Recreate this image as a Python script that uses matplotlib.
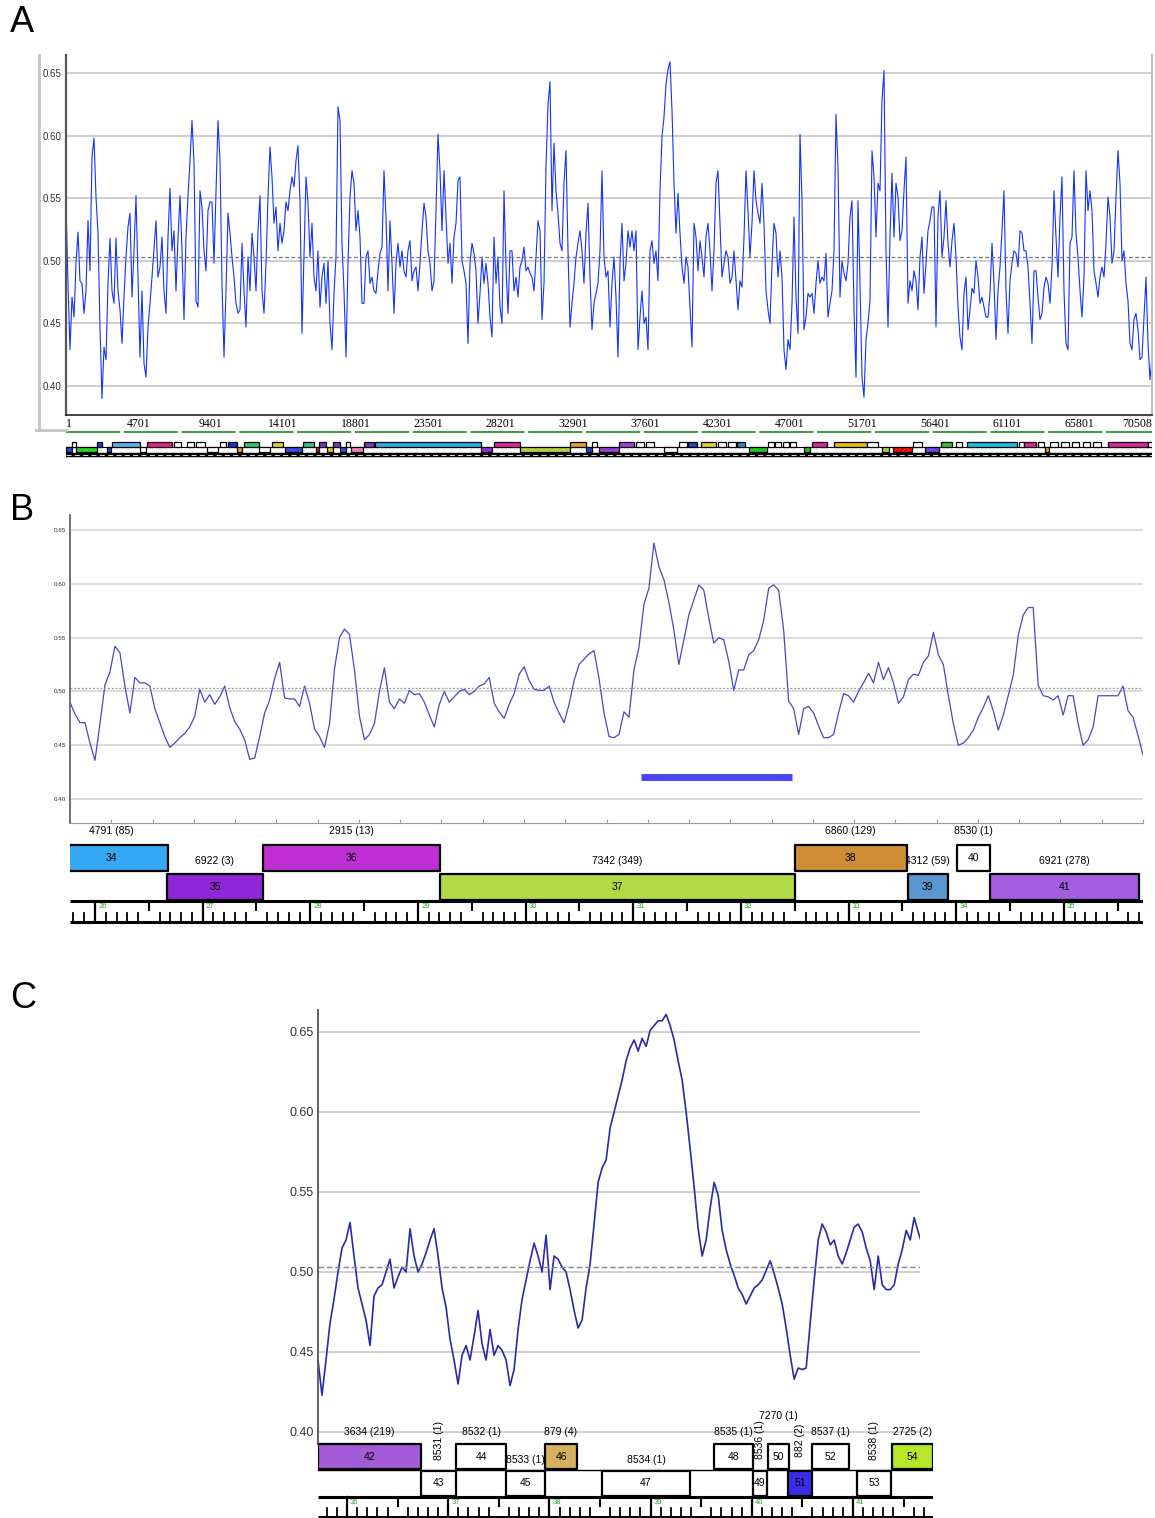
import numpy as np
import matplotlib
matplotlib.use("Agg")
import matplotlib.pyplot as plt
from matplotlib.patches import Rectangle
from matplotlib.lines import Line2D

plt.rcParams["font.family"] = ["Liberation Sans", "DejaVu Sans"]

W, H = 1155, 1518

# ---------------- data ----------------
mean_gc = 0.503
gc_ticks = [0.40, 0.45, 0.50, 0.55, 0.60, 0.65]

# Panel A: whole genome GC skew window values (read left to right)
gc_a = [
    0.543, 0.482, 0.429, 0.471, 0.455, 0.498, 0.523, 0.484, 0.482, 0.458,
    0.476, 0.532, 0.492, 0.583, 0.598, 0.551, 0.522, 0.447, 0.390, 0.431,
    0.421, 0.482, 0.518, 0.476, 0.466, 0.518, 0.476, 0.461, 0.434, 0.471,
    0.503, 0.527, 0.538, 0.471, 0.508, 0.552, 0.487, 0.423, 0.476, 0.418,
    0.407, 0.447, 0.466, 0.487, 0.510, 0.532, 0.487, 0.495, 0.519, 0.476,
    0.458, 0.519, 0.558, 0.508, 0.524, 0.476, 0.518, 0.552, 0.508, 0.453,
    0.519, 0.552, 0.580, 0.612, 0.578, 0.468, 0.463, 0.556, 0.543, 0.508,
    0.492, 0.540, 0.547, 0.547, 0.498, 0.554, 0.612, 0.580, 0.482, 0.423,
    0.476, 0.538, 0.522, 0.503, 0.487, 0.466, 0.458, 0.461, 0.514, 0.476,
    0.447, 0.503, 0.476, 0.522, 0.503, 0.476, 0.524, 0.552, 0.476, 0.458,
    0.498, 0.551, 0.591, 0.567, 0.530, 0.543, 0.508, 0.530, 0.514, 0.524,
    0.547, 0.540, 0.556, 0.567, 0.559, 0.580, 0.592, 0.548, 0.442, 0.503,
    0.567, 0.546, 0.503, 0.530, 0.487, 0.476, 0.508, 0.463, 0.487, 0.498,
    0.466, 0.500, 0.450, 0.429, 0.474, 0.503,
    0.623, 0.612, 0.514, 0.476, 0.423, 0.498, 0.551, 0.572, 0.562, 0.524,
    0.540, 0.519, 0.466, 0.466, 0.503, 0.508, 0.482, 0.487, 0.476, 0.474,
    0.492, 0.506, 0.511, 0.572, 0.535, 0.476, 0.532, 0.498, 0.458, 0.498,
    0.514, 0.495, 0.508, 0.492, 0.487, 0.508, 0.516, 0.484, 0.492, 0.495,
    0.476, 0.498, 0.524, 0.546, 0.535, 0.508, 0.498, 0.476, 0.484, 0.540,
    0.601, 0.572, 0.524, 0.572, 0.535, 0.498, 0.514, 0.482, 0.519, 0.530,
    0.564, 0.567, 0.500, 0.492, 0.482, 0.434, 0.498, 0.514, 0.506, 0.492,
    0.450, 0.474, 0.503, 0.482, 0.498, 0.482, 0.455, 0.439, 0.519, 0.482,
    0.503, 0.463, 0.450, 0.556, 0.495, 0.458, 0.508, 0.508, 0.476, 0.487,
    0.471, 0.495, 0.500, 0.511, 0.492, 0.495, 0.490, 0.487, 0.476, 0.503,
    0.532, 0.524, 0.453, 0.482, 0.575, 0.625, 0.643, 0.540, 0.594, 0.556,
    0.538, 0.514, 0.508, 0.562, 0.588, 0.508, 0.447, 0.466, 0.482, 0.503,
    0.514, 0.524, 0.508, 0.482, 0.522, 0.546, 0.487, 0.445, 0.466, 0.474,
    0.482, 0.508, 0.572, 0.503, 0.487,
    0.492, 0.447, 0.482, 0.503, 0.471, 0.423, 0.498, 0.530, 0.484, 0.498,
    0.524, 0.511, 0.524, 0.508, 0.524, 0.429, 0.455, 0.476, 0.450, 0.455,
    0.429, 0.508, 0.516, 0.498, 0.508, 0.484, 0.556, 0.599, 0.615, 0.641,
    0.653, 0.659, 0.620, 0.562, 0.522, 0.554, 0.522, 0.495, 0.482, 0.503,
    0.495, 0.463, 0.431, 0.530, 0.519, 0.492, 0.516, 0.503, 0.487, 0.519,
    0.530, 0.508, 0.476, 0.508, 0.562, 0.572, 0.530, 0.487, 0.498, 0.508,
    0.503, 0.482, 0.487, 0.508, 0.484, 0.461, 0.484, 0.479, 0.519, 0.572,
    0.540, 0.503, 0.530, 0.572, 0.548, 0.538, 0.530, 0.562, 0.530, 0.476,
    0.461, 0.450, 0.498, 0.530, 0.522, 0.487, 0.508, 0.487, 0.429, 0.413,
    0.437, 0.429, 0.466, 0.535, 0.471, 0.442, 0.601, 0.548, 0.445, 0.455,
    0.474, 0.471, 0.474, 0.458, 0.482, 0.500, 0.482, 0.487, 0.484, 0.506,
    0.455, 0.466, 0.476, 0.508, 0.617, 0.575, 0.471, 0.500, 0.490, 0.484,
    0.498, 0.535, 0.548, 0.461, 0.407, 0.548, 0.482, 0.407, 0.391, 0.437,
    0.450, 0.468, 0.588, 0.567, 0.519,
    0.562, 0.556, 0.628, 0.652, 0.508, 0.447, 0.519, 0.570, 0.519, 0.562,
    0.551, 0.516, 0.524, 0.556, 0.583, 0.466, 0.484, 0.476, 0.492, 0.484,
    0.461, 0.503, 0.519, 0.474, 0.498, 0.524, 0.532, 0.543, 0.543, 0.447,
    0.535, 0.556, 0.503, 0.519, 0.548, 0.514, 0.495, 0.516, 0.530, 0.503,
    0.463, 0.439, 0.429, 0.474, 0.487, 0.445, 0.461, 0.478, 0.474, 0.500,
    0.487, 0.466, 0.471, 0.463, 0.455, 0.455, 0.474, 0.514, 0.482, 0.437,
    0.476, 0.495, 0.524, 0.556, 0.476, 0.442, 0.484, 0.498, 0.508, 0.506,
    0.495, 0.524, 0.522, 0.508, 0.508, 0.495, 0.466, 0.434, 0.492, 0.492,
    0.471, 0.453, 0.458, 0.479, 0.487, 0.482, 0.466, 0.495, 0.556, 0.519,
    0.487, 0.535, 0.567, 0.476, 0.434, 0.429, 0.514, 0.519, 0.572, 0.522,
    0.503, 0.476, 0.455, 0.487, 0.572, 0.540, 0.556, 0.540, 0.492, 0.482,
    0.471, 0.487, 0.495, 0.487, 0.514, 0.551, 0.535, 0.498, 0.508, 0.551,
    0.588, 0.562, 0.500, 0.508, 0.482, 0.468, 0.434, 0.429, 0.453, 0.458,
    0.445, 0.421, 0.423, 0.455, 0.487, 0.434, 0.405, 0.423,
]
a_first, a_last = 1, 70508
a_ticks = [1, 4701, 9401, 14101, 18801, 23501, 28201, 32901, 37601,
           42301, 47001, 51701, 56401, 61101, 65801, 70508]

# Panel A gene map: (start kb, end kb, row, colour); row 1 = upper, 0 = lower
genes_a = [
    (0.00, 0.39, 0, "#2a3fd6"), (0.39, 0.65, 1, "white"),
    (0.65, 2.01, 0, "#2ccf2c"), (2.01, 2.34, 1, "#2a3fd6"),
    (2.66, 2.92, 0, "#2a3fd6"), (2.99, 4.80, 1, "#58b2ea"),
    (4.80, 5.19, 0, "white"), (5.26, 6.88, 1, "#e8228a"),
    (7.01, 7.46, 1, "white"), (7.85, 8.31, 1, "white"),
    (8.44, 9.02, 1, "white"), (9.15, 9.86, 0, "white"),
    (9.99, 10.38, 1, "white"), (10.51, 11.10, 1, "#2030d0"),
    (11.10, 11.42, 0, "#e89a1a"), (11.55, 12.53, 1, "#2fc46a"),
    (12.53, 13.24, 0, "white"), (13.37, 14.08, 1, "#e2d21a"),
    (14.21, 15.32, 0, "#3a4ae2"), (15.38, 16.09, 1, "#2fc48a"),
    (16.22, 16.42, 0, "#e02020"), (16.42, 16.87, 1, "#8232c4"),
    (16.94, 17.33, 0, "#e0c020"), (17.33, 17.78, 1, "#8232c4"),
    (17.78, 18.17, 0, "#3a4ae2"), (18.17, 18.43, 1, "white"),
    (18.50, 19.28, 0, "#f282c4"), (19.34, 19.99, 1, "#8232c4"),
    (20.05, 26.93, 1, "#22b2e2"), (26.93, 27.65, 0, "#9232d2"),
    (27.78, 29.46, 1, "#e222a2"), (29.46, 32.71, 0, "#b2d242"),
    (32.71, 33.75, 1, "#e2a222"), (33.75, 34.14, 0, "#2a3fd6"),
    (34.14, 34.46, 1, "white"), (34.59, 35.89, 0, "#9442d2"),
    (35.89, 36.86, 1, "#a442d2"), (37.00, 37.50, 1, "white"),
    (37.65, 38.20, 1, "white"), (38.80, 39.65, 0, "white"),
    (39.80, 40.30, 1, "white"), (40.40, 40.95, 1, "#2a3fd6"),
    (41.20, 42.20, 1, "#e2d21a"), (42.30, 42.85, 1, "white"),
    (43.00, 43.50, 1, "white"), (43.55, 44.07, 1, "#2a8ac6"),
    (44.33, 45.49, 0, "#22c422"), (45.55, 45.95, 1, "white"),
    (46.05, 46.45, 1, "white"), (46.55, 46.95, 1, "white"),
    (47.00, 47.40, 1, "white"), (47.90, 48.30, 0, "#22c422"),
    (48.42, 49.39, 1, "#e222a2"), (49.84, 51.98, 1, "#e2c200"),
    (51.98, 52.70, 1, "white"), (52.96, 53.41, 0, "#b2d242"),
    (53.67, 54.90, 0, "#e21212"), (55.00, 55.60, 1, "white"),
    (55.75, 56.66, 0, "#7242e2"), (56.79, 57.50, 1, "#32c232"),
    (57.75, 58.20, 1, "white"), (58.47, 61.72, 1, "#12c2e2"),
    (61.85, 62.17, 1, "white"), (62.17, 62.95, 1, "#e222a2"),
    (63.10, 63.50, 1, "white"), (63.54, 63.80, 0, "#e89a1a"),
    (63.90, 64.40, 1, "white"), (64.60, 65.10, 1, "white"),
    (65.30, 65.80, 1, "white"), (66.00, 66.50, 1, "white"),
    (66.70, 67.20, 1, "white"), (67.63, 70.22, 1, "#e222a2"),
    (70.22, 70.50, 1, "white"),
]

# Panel B: region 25.77-35.75 kb
b_range = (25.768, 35.735)
gc_b = [
    0.490, 0.479, 0.471, 0.471, 0.452, 0.436, 0.470, 0.506, 0.518, 0.542,
    0.536, 0.505, 0.480, 0.513, 0.508, 0.508, 0.505, 0.484, 0.471, 0.458,
    0.448, 0.452, 0.457, 0.461, 0.467, 0.477, 0.502, 0.490, 0.497, 0.488,
    0.495, 0.505, 0.485, 0.472, 0.465, 0.455, 0.437, 0.438, 0.458, 0.480,
    0.492, 0.512, 0.527, 0.494, 0.493, 0.493, 0.486, 0.505, 0.489, 0.465,
    0.458, 0.448, 0.470, 0.521, 0.550, 0.558, 0.553, 0.520, 0.477, 0.455,
    0.460, 0.470, 0.500, 0.522, 0.490, 0.484, 0.493, 0.489, 0.501, 0.497,
    0.498, 0.490, 0.478, 0.467, 0.488, 0.500, 0.490, 0.495, 0.500, 0.502,
    0.497, 0.500, 0.505, 0.507, 0.513, 0.489, 0.481, 0.475, 0.488, 0.498,
    0.516, 0.523, 0.510, 0.502, 0.501, 0.501, 0.505, 0.490, 0.480, 0.471,
    0.488, 0.510, 0.525, 0.530, 0.535, 0.538, 0.512, 0.480, 0.458, 0.457,
    0.460, 0.481, 0.476, 0.520, 0.541, 0.581, 0.596, 0.638, 0.616, 0.604,
    0.583, 0.557, 0.525, 0.548, 0.571, 0.585, 0.599, 0.594, 0.568, 0.545,
    0.550, 0.548, 0.528, 0.501, 0.520, 0.520, 0.534, 0.538, 0.548, 0.566,
    0.596, 0.599, 0.594, 0.557, 0.491, 0.484, 0.460, 0.484, 0.486, 0.480,
    0.468, 0.457, 0.457, 0.460, 0.480, 0.498, 0.496, 0.490, 0.500, 0.508,
    0.517, 0.508, 0.527, 0.511, 0.522, 0.508, 0.489, 0.495, 0.511, 0.516,
    0.515, 0.527, 0.533, 0.555, 0.534, 0.525, 0.496, 0.470, 0.450, 0.452,
    0.457, 0.464, 0.476, 0.485, 0.496, 0.482, 0.464, 0.478, 0.496, 0.515,
    0.552, 0.571, 0.578, 0.578, 0.506, 0.496, 0.495, 0.492, 0.496, 0.478,
    0.496, 0.496, 0.470, 0.450, 0.455, 0.467, 0.496, 0.496, 0.496, 0.496,
    0.496, 0.505, 0.482, 0.476, 0.459, 0.441,
]
b_window = (31.07, 32.47)
b_gene_start = [25.63, 26.669, 27.560, 29.203, 32.500, 33.549, 34.004, 34.310]
b_gene_end = [26.678, 27.560, 29.203, 32.500, 33.540, 33.920, 34.310, 35.694]
b_gene_row = [1, 0, 1, 0, 1, 0, 1, 0]
b_gene_num = [34, 35, 36, 37, 38, 39, 40, 41]
b_gene_label = ["4791 (85)", "6922 (3)", "2915 (13)", "7342 (349)",
                "6860 (129)", "4312 (59)", "8530 (1)", "6921 (278)"]
b_gene_color = ["#36a8f4", "#8f27d9", "#bf2fd3", "#b2da45",
                "#cf8e33", "#5c96cf", "white", "#a45ce0"]

# Panel C: region 35.71-41.68 kb
c_range = (35.713, 41.682)
gc_c = [
    0.445, 0.423, 0.445, 0.468, 0.483, 0.500, 0.515, 0.520, 0.531, 0.510,
    0.490, 0.480, 0.470, 0.454, 0.485, 0.490, 0.492, 0.500, 0.508, 0.490,
    0.497, 0.503, 0.500, 0.527, 0.510, 0.500, 0.505, 0.512, 0.520, 0.527,
    0.510, 0.490, 0.478, 0.458, 0.445, 0.430, 0.448, 0.454, 0.445, 0.460,
    0.476, 0.455, 0.445, 0.464, 0.448, 0.454, 0.451, 0.445, 0.429, 0.439,
    0.464, 0.483, 0.495, 0.507, 0.518, 0.510, 0.500, 0.523, 0.489, 0.510,
    0.508, 0.503, 0.500, 0.489, 0.476, 0.465, 0.470, 0.490, 0.505, 0.530,
    0.556, 0.565, 0.570, 0.590, 0.600, 0.610, 0.620, 0.632, 0.640, 0.645,
    0.638, 0.646, 0.641, 0.651, 0.654, 0.657, 0.657, 0.661, 0.654, 0.645,
    0.632, 0.620, 0.600, 0.577, 0.553, 0.527, 0.510, 0.520, 0.540, 0.556,
    0.548, 0.526, 0.514, 0.505, 0.498, 0.490, 0.486, 0.480, 0.485, 0.490,
    0.492, 0.495, 0.501, 0.507, 0.499, 0.490, 0.480, 0.465, 0.448, 0.433,
    0.440, 0.439, 0.440, 0.468, 0.495, 0.520, 0.530, 0.525, 0.517, 0.520,
    0.510, 0.505, 0.512, 0.520, 0.528, 0.530, 0.525, 0.515, 0.507, 0.489,
    0.510, 0.492, 0.489, 0.489, 0.492, 0.505, 0.514, 0.526, 0.520, 0.534,
    0.525, 0.517,
]
c_gene_start = [35.713, 36.731, 37.077, 37.571, 37.957, 38.520, 39.626,
                40.012, 40.160, 40.358, 40.595, 41.040, 41.385]
c_gene_end = [36.731, 37.077, 37.571, 37.957, 38.273, 39.389, 40.012,
              40.150, 40.368, 40.595, 40.960, 41.375, 41.791]
c_gene_row = [1, 0, 1, 0, 1, 0, 1, 0, 1, 0, 1, 0, 1]
c_gene_num = [42, 43, 44, 45, 46, 47, 48, 49, 50, 51, 52, 53, 54]
c_gene_label = ["3634 (219)", "8531 (1)", "8532 (1)", "8533 (1)", "879 (4)",
                "8534 (1)", "8535 (1)", "8536 (1)", "7270 (1)", "882 (2)",
                "8537 (1)", "8538 (1)", "2725 (2)"]
c_gene_label_kind = ["flat", "vert", "flat", "flat", "flat", "flat", "flat",
                     "vert", "raised", "vert", "flat", "vert", "flat"]
c_gene_color = ["#a35bd6", "white", "white", "white", "#d5b05e", "white",
                "white", "white", "white", "#3a2de8", "white", "white",
                "#b8e62a"]


# ---------------- helpers ----------------
fig = plt.figure(figsize=(W / 100, H / 100), dpi=100)
fig.patch.set_facecolor("white")


def px_axes(x0, y0, x1, y1):
    """Axes placed by pixel box (left, top, right, bottom)."""
    return fig.add_axes([x0 / W, 1 - y1 / H, (x1 - x0) / W, (y1 - y0) / H])


def draw_ruler(ax, lo, hi, y_top, y_bot):
    ax.plot([lo, hi], [y_top, y_top], color="black", lw=2.2, solid_capstyle="butt")
    ax.plot([lo, hi], [y_bot, y_bot], color="black", lw=2.2, solid_capstyle="butt")
    span = y_top - y_bot
    for k in range(int(np.ceil(lo * 10)), int(np.floor(hi * 10)) + 1):
        pos = k / 10
        if k % 10 == 0:
            ax.plot([pos, pos], [y_bot, y_top], color="black", lw=1.6)
            ax.text(pos + 0.03, y_top - 0.1 * span, str(k // 10), color="#2aa82a",
                    fontsize=5.5, ha="left", va="top")
        elif k % 5 == 0:
            ax.plot([pos, pos], [y_top - 0.45 * span, y_top], color="black", lw=1.5)
        else:
            ax.plot([pos, pos], [y_bot, y_bot + 0.45 * span], color="black", lw=1.3)


def draw_box(ax, x0, x1, y0, y1, color, num):
    ax.add_patch(Rectangle((x0, y0), x1 - x0, y1 - y0, facecolor=color,
                           edgecolor="black", lw=1.6, joinstyle="round", zorder=3))
    ax.text((x0 + x1) / 2, (y0 + y1) / 2, str(num), ha="center", va="center",
            fontsize=7.5, zorder=4)


def style_gc_axes(ax, ylim, label_size, grid_color):
    ax.set_ylim(*ylim)
    ax.set_yticks(gc_ticks)
    ax.set_yticklabels([f"{t:.2f}" for t in gc_ticks])
    ax.grid(axis="y", color=grid_color, lw=1.2)
    ax.set_axisbelow(True)
    ax.tick_params(axis="y", length=0, pad=3, labelsize=label_size, labelcolor="#333333")
    for side in ("top", "right"):
        ax.spines[side].set_visible(False)


# ---------------- Panel A ----------------
ax_a = px_axes(66, 55, 1152, 415)
x_a = np.linspace(a_first, a_last, len(gc_a))
ax_a.plot(x_a, gc_a, color="#1432ff", lw=0.8)
ax_a.axhline(mean_gc, color="#777777", ls=(0, (3, 2)), lw=0.9)
ax_a.set_xlim(a_first, a_last)
style_gc_axes(ax_a, (0.3768, 0.6644), 7, "#c6c6c6")
ax_a.spines["right"].set_visible(True)
ax_a.spines["right"].set_color("#c0c0c0")
ax_a.spines["right"].set_linewidth(1.5)
ax_a.spines["left"].set_color("#555555")
ax_a.spines["left"].set_linewidth(1.6)
ax_a.spines["bottom"].set_color("#222222")
ax_a.spines["bottom"].set_linewidth(1.2)
ax_a.set_xticks(a_ticks)
ax_a.set_xticklabels([str(t) for t in a_ticks])
ax_a.tick_params(axis="x", length=0, pad=2, labelsize=8.5)
tick_labels = ax_a.get_xticklabels()
for lbl in tick_labels:
    lbl.set_family("Liberation Serif")
tick_labels[0].set_ha("left")
tick_labels[-1].set_ha("right")

# window-style frame at the left of panel A
fig.add_artist(Line2D([39 / W, 39 / W], [1 - 55 / H, 1 - 430 / H], color="#c4c4c4", lw=2))
fig.add_artist(Line2D([36 / W, 66 / W], [1 - 430 / H, 1 - 430 / H], color="#c4c4c4", lw=2))

# gene map under panel A
ax_ga = px_axes(66, 428, 1152, 458)
ax_ga.set_xlim(0, (a_last - a_first) / 1000)
ax_ga.set_ylim(0, 30)
ax_ga.axis("off")
ax_ga.plot([0, 70.5], [26, 26], color="#2a9a2a", lw=1.3, ls=(0, (30, 2)))
ax_ga.plot([0, 70.5], [11, 11], color="black", lw=0.8)
for start, end, row, col in genes_a:
    y0 = 11 if row == 1 else 6
    ax_ga.add_patch(Rectangle((start, y0), end - start, 5, facecolor=col,
                              edgecolor="black", lw=0.9, zorder=3))
ax_ga.plot([0, 70.5], [3.2, 3.2], color="black", lw=3.2, solid_capstyle="butt")
ax_ga.plot([0, 70.5], [3.2, 3.2], color="white", lw=0.6, ls=(0, (6, 4)))

# ---------------- Panel B ----------------
ax_b = px_axes(70, 515, 1143, 823)
x_b = np.linspace(b_range[0], b_range[1], len(gc_b))
ax_b.plot(x_b, gc_b, color="#4848c4", lw=0.9)
ax_b.axhline(mean_gc, color="#999999", ls=(0, (1.5, 1.5)), lw=0.9)
ax_b.plot(b_window, [0.4204, 0.4204], color="#4a46f0", lw=5, solid_capstyle="butt")
ax_b.set_xlim(*b_range)
style_gc_axes(ax_b, (0.3777, 0.664), 4.5, "#d6d6d6")
ax_b.spines["left"].set_color("#666666")
ax_b.spines["left"].set_linewidth(1.3)
ax_b.spines["bottom"].set_color("#999999")
ax_b.set_xticks(np.linspace(b_range[0], b_range[1], 27))
ax_b.tick_params(axis="x", direction="in", length=3, color="#999999", labelbottom=False)

ax_gb = px_axes(70, 825, 1143, 925)
ax_gb.set_xlim(*b_range)
ax_gb.set_ylim(0, 100)
ax_gb.axis("off")
b_rows = {1: (54, 80), 0: (25, 51)}
b_label_y = {1: 94, 0: 64}
for i in range(len(b_gene_num)):
    y0, y1 = b_rows[b_gene_row[i]]
    mid = (b_gene_start[i] + b_gene_end[i]) / 2
    ax_gb.text(mid, b_label_y[b_gene_row[i]], b_gene_label[i], ha="center",
               va="center", fontsize=7.5, zorder=2)
    draw_box(ax_gb, b_gene_start[i], b_gene_end[i], y0, y1, b_gene_color[i], b_gene_num[i])
draw_ruler(ax_gb, b_range[0], b_range[1], 24, 3)

# ---------------- Panel C ----------------
ax_c = px_axes(318, 1010, 920, 1444)
x_c = np.linspace(c_range[0], c_range[1], len(gc_c))
ax_c.plot(x_c, gc_c, color="#2a2aa6", lw=1.2)
ax_c.axhline(mean_gc, color="#888888", ls=(0, (4, 2)), lw=1.0)
ax_c.set_xlim(c_range[0], 41.660)
style_gc_axes(ax_c, (0.3925, 0.66375), 9, "#c8c8c8")
ax_c.spines["bottom"].set_visible(False)
ax_c.spines["left"].set_color("#555555")
ax_c.spines["left"].set_linewidth(1.3)
ax_c.set_xticks([])

ax_gc = px_axes(318, 1400, 933, 1520)
ax_gc.set_xlim(c_range[0], 41.791)
ax_gc.set_ylim(0, 120)
ax_gc.axis("off")
ax_gc.plot([c_range[0], 41.791], [50.5, 50.5], color="black", lw=1.0, zorder=1)
c_rows = {1: (51, 76), 0: (24, 49)}
c_label_y = {("flat", 1): 88, ("flat", 0): 60, ("raised", 1): 104,
             ("vert", 1): 80, ("vert", 0): 80}
for i in range(len(c_gene_num)):
    row = c_gene_row[i]
    y0, y1 = c_rows[row]
    mid = (c_gene_start[i] + c_gene_end[i]) / 2
    kind = c_gene_label_kind[i]
    ax_gc.text(mid, c_label_y[(kind, row)], c_gene_label[i], ha="center",
               va="center", fontsize=7.5, rotation=90 if kind == "vert" else 0,
               zorder=2)
    draw_box(ax_gc, c_gene_start[i], c_gene_end[i], y0, y1, c_gene_color[i], c_gene_num[i])
draw_ruler(ax_gc, c_range[0], 41.791, 23, 3)

# panel letters
for letter, ypix in (("A", 23), ("B", 510), ("C", 998)):
    fig.text(10 / W, 1 - ypix / H, letter, fontsize=26, ha="left", va="center")

fig.savefig("out.png", dpi=100)
